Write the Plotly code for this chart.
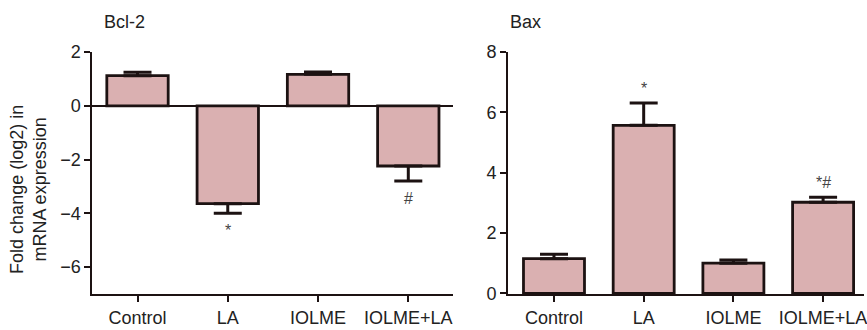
import plotly.graph_objects as go

categories = ["Control", "LA", "IOLME", "IOLME+LA"]

bcl2_mean = [1.12, -3.64, 1.17, -2.24]
bcl2_err = [0.13, 0.36, 0.09, 0.56]
bcl2_sig = ["", "*", "", "#"]

bax_mean = [1.15, 5.57, 1.00, 3.02]
bax_err = [0.15, 0.74, 0.11, 0.17]
bax_sig = ["", "*", "", "*#"]

bcl2_ticks = [2, 0, -2, -4, -6]
bax_ticks = [0, 2, 4, 6, 8]

FILL = "#DAB0B1"
EDGE = "#1c1212"
FONT = "Liberation Sans, Arial, Helvetica, sans-serif"
FS = 18

W, H = 867, 330
top, bottom = 52, 294


def px(x):
    return x / W


fig = go.Figure()

# Bcl-2 panel
fig.add_trace(go.Bar(
    x=categories, y=bcl2_mean, xaxis="x", yaxis="y",
    marker=dict(color=FILL, line=dict(color=EDGE, width=2.8)),
    width=0.68,
    error_y=dict(type="data", symmetric=False,
                 array=[e if m >= 0 else 0 for m, e in zip(bcl2_mean, bcl2_err)],
                 arrayminus=[e if m < 0 else 0 for m, e in zip(bcl2_mean, bcl2_err)],
                 color=EDGE, thickness=3, width=14),
    showlegend=False, hoverinfo="skip",
))

# Bax panel
fig.add_trace(go.Bar(
    x=categories, y=bax_mean, xaxis="x2", yaxis="y2",
    marker=dict(color=FILL, line=dict(color=EDGE, width=2.8)),
    width=0.68,
    error_y=dict(type="data", symmetric=False,
                 array=bax_err, arrayminus=[0] * len(bax_err),
                 color=EDGE, thickness=3, width=14),
    showlegend=False, hoverinfo="skip",
))

annotations = []
for c, m, e, s in zip(categories, bcl2_mean, bcl2_err, bcl2_sig):
    if s:
        end = m + e if m >= 0 else m - e
        annotations.append(dict(x=c, y=end, xref="x", yref="y", text=s,
                                showarrow=False, yanchor="middle",
                                yshift=-17 if m < 0 else 15,
                                font=dict(family=FONT, size=16, color="#444")))
for c, m, e, s in zip(categories, bax_mean, bax_err, bax_sig):
    if s:
        annotations.append(dict(x=c, y=m + e, xref="x2", yref="y2", text=s,
                                showarrow=False, yanchor="middle", yshift=15,
                                font=dict(family=FONT, size=16, color="#444")))

ph = bottom - top
annotations += [
    dict(text="Bcl-2", xref="paper", yref="paper", x=px(102), y=(bottom - 22) / ph,
         xanchor="left", yanchor="middle", showarrow=False,
         font=dict(family=FONT, size=FS, color="#222")),
    dict(text="Bax", xref="paper", yref="paper", x=px(510), y=(bottom - 22) / ph,
         xanchor="left", yanchor="middle", showarrow=False,
         font=dict(family=FONT, size=FS, color="#222")),
    dict(text="Fold change (log2) in<br>mRNA expression", xref="paper", yref="paper",
         x=px(28), y=(bottom - 189) / ph, xanchor="center", yanchor="middle",
         textangle=-90, showarrow=False,
         font=dict(family=FONT, size=FS, color="#222")),
]

axis_common = dict(showline=True, linecolor=EDGE, linewidth=2, ticks="outside",
                   ticklen=6, tickwidth=2, tickcolor=EDGE, showgrid=False,
                   tickfont=dict(family=FONT, size=FS, color="#222"))

fig.update_layout(
    width=W, height=H,
    margin=dict(l=0, r=0, t=top, b=H - bottom),
    plot_bgcolor="white", paper_bgcolor="white",
    xaxis=dict(domain=[px(92.7), px(455)], range=[-0.5, 3.5], anchor="y",
               **axis_common),
    yaxis=dict(domain=[0, 1], range=[-7, 2], tickvals=bcl2_ticks, anchor="x",
               zeroline=True, zerolinecolor=EDGE, zerolinewidth=2,
               **axis_common),
    xaxis2=dict(domain=[px(510), 1.0], range=[-0.51, 3.456], anchor="y2",
                **axis_common),
    yaxis2=dict(domain=[0, 1], range=[-0.02, 8], tickvals=bax_ticks, anchor="x2",
                zeroline=False, **axis_common),
    annotations=annotations,
    bargap=0.32,
)

fig.write_html("out.html", config={"displayModeBar": False},
               post_script="document.body.style.margin='0';document.body.style.overflow='hidden';")
